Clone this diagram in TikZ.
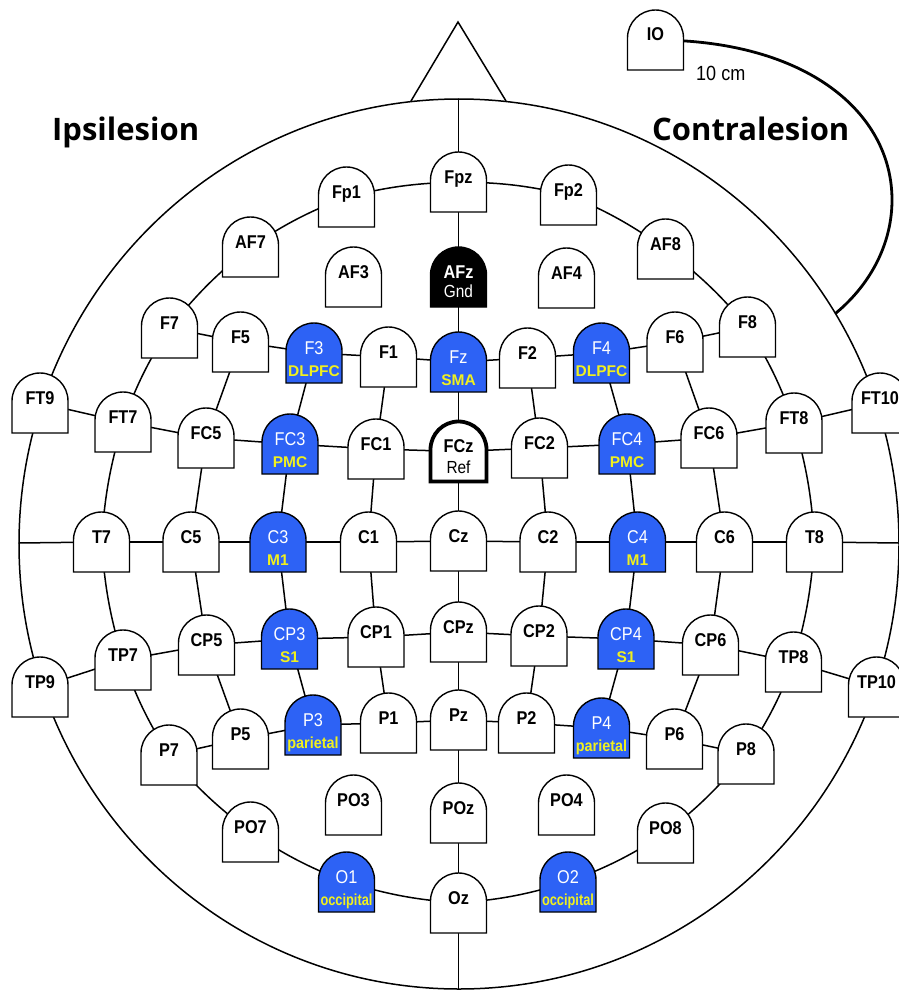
\documentclass[tikz,border=0pt]{standalone}
\usepackage{fontspec}
\setmainfont{Liberation Sans}
\newfontfamily\labf[FakeStretch=0.88]{Liberation Sans}
\newfontfamily\subf{Liberation Sans}
\newfontfamily\subp[FakeStretch=0.9]{Liberation Sans}
\newfontfamily\subo[FakeStretch=0.8]{Liberation Sans}
\newfontfamily\headf{Open Sans}
\usetikzlibrary{backgrounds}
\definecolor{eblue}{RGB}{45,98,245}
\definecolor{eyellow}{RGB}{240,240,30}
\newcommand\elfont{\labf\bfseries\fontsize{18.5}{21}\selectfont}
\newcommand\elfontr{\labf\mdseries\fontsize{18.5}{21}\selectfont}
\newcommand\subA{\subf\bfseries\fontsize{15.5}{18}\selectfont}
\newcommand\subP{\subp\bfseries\fontsize{16}{18}\selectfont}
\newcommand\subO{\subo\bfseries\fontsize{16}{18}\selectfont}
\newcommand\gndfont{\labf\mdseries\fontsize{17.5}{20}\selectfont}
\newcommand\etxt[3]{\vbox to 60pt{\offinterlineskip\kern31pt\hbox to 56pt{\hss\smash{#1}\hss}\kern#3\hbox to 56pt{\hss\smash{#2}\hss}\vss}}
\tikzset{
  tombfill/.store in=\tombfill, tombdraw/.store in=\tombdraw, tomblw/.store in=\tomblw,
  tombfill=white, tombdraw=black, tomblw=1.4pt,
  elec/.style={rectangle, inner sep=0pt, minimum width=60pt, minimum height=64pt, text=black, font=\elfont,
    path picture={\path[fill=\tombfill,draw=\tombdraw,line width=\tomblw,line join=miter]
      ([xshift=-28pt,yshift=-30pt]path picture bounding box.center) -- ++(0pt,32pt)
      arc[start angle=180,end angle=0,radius=28pt] -- ++(0pt,-32pt) -- cycle;}},
  act/.style={elec, tombfill=eblue, text=white, font=\elfontr},
  gnd/.style={elec, tombfill=black, text=white},
  refe/.style={elec, tomblw=3.8pt},
  conn/.style={line width=1.5pt, line cap=round},
  head/.style={font=\headf\bfseries\fontsize{31}{36}\selectfont, anchor=base west, inner sep=0pt},
}
\begin{document}
\begin{tikzpicture}[x=1pt,y=-1pt]
\useasboundingbox (0,0) rectangle (898,990);
% plain electrodes
\foreach \nm/\cx/\ty in {Fpz/458.5/152, Fp1/346.5/167, Fp2/568.5/165, AF7/250.5/217, AF3/353.5/247,
  AF4/566.5/248, AF8/665.5/219, F7/169.5/298, F5/240.5/312, F1/388.5/327, F2/527.5/328, F6/675/312,
  F8/747.5/297, FT9/40/373, FT7/123/392, FC5/206/408, FC1/376/419, FC2/539.5/418, FC6/709/408,
  FT8/794/393, FT10/880/373, T7/101.5/512, C5/191/512, C1/368.5/512, Cz/458.5/511, C2/548/512,
  C6/724.5/512, T8/814.5/512, TP9/40/657, TP7/123/630, CP5/206.5/615, CP1/376/607, CPz/458.5/602,
  CP2/539/606, CP6/710.5/615, TP8/793.5/632, TP10/876.5/657, P7/169/725, P5/240.5/709, P1/388.5/693,
  Pz/458.5/690, P2/526.5/693, P6/674.5/709, P8/746/724, PO7/250.5/802, PO3/353.5/775, POz/458.5/783,
  PO4/566.5/775, PO8/665.5/803, Oz/458.5/873, IO/655.5/10}
  \node[elec] (\nm) at (\cx,\ty+30) {\etxt{\nm}{}{22.5pt}};
% stimulated electrodes
\foreach \nm/\cx/\ty/\sb/\sf in {F3/314/323/DLPFC/\subA, Fz/458.5/332/SMA/\subA, F4/601.5/323/DLPFC/\subA,
  FC3/290/414/PMC/\subA, FC4/627/414/PMC/\subA, C3/278/512/M1/\subA, C4/637.5/512/M1/\subA,
  CP3/289.5/609/S1/\subA, CP4/626/609/S1/\subA, P3/313/695/parietal/\subP, P4/601.5/698/parietal/\subP,
  O1/346.5/852/occipital/\subO, O2/568/852/occipital/\subO}
  \node[act] (\nm) at (\cx,\ty+30) {\etxt{\nm}{\color{eyellow}\sf\sb}{22pt}};
\node[gnd] (AFz) at (458.5,277) {\etxt{AFz}{\gndfont Gnd}{19.5pt}};
\node[refe] (FCz) at (458.5,451.5) {\etxt{FCz}{\gndfont Ref}{20.5pt}};
% texts
\node[head] (ipsi) at (52,140) {Ipsilesion};
\node[head] (contra) at (652,140) {Contralesion};
\node[font=\labf\mdseries\fontsize{20.5}{24}\selectfont, anchor=base west, inner sep=0pt] (dist) at (696,81) {10 cm};
% free ends
\coordinate (ioend) at (836,313);
\coordinate (topm) at (458.5,99);
\coordinate (botm) at (458.5,989);
\coordinate (lc) at (19,543);
\coordinate (rc) at (899,543);
\begin{pgfonlayer}{background}
\draw[conn] (459,544) ellipse [x radius=440pt, y radius=445pt];
\draw[conn, line join=miter] (411,101) -- (458,22) -- (506,101);
\draw[conn, line width=2.8pt] (IO.center) .. controls (806,40) and (892,112) .. (892,200)
   .. controls (892,242) and (872,283) .. (ioend);
% inner ring
\foreach \a/\b in {Fpz/Fp1, Fp1/AF7, AF7/F7, F7/FT7, FT7/T7, T7/TP7, TP7/P7, P7/PO7, PO7/O1, O1/Oz,
  Oz/O2, O2/PO8, PO8/P8, P8/TP8, TP8/T8, T8/FT8, FT8/F8, F8/AF8, AF8/Fp2, Fp2/Fpz}
  \draw[conn] (\a.center) to[bend right=6] (\b.center);
% rows, columns, midline
\foreach \a/\b in {F7/F5, F5/F3, F3/F1, F1/Fz, Fz/F2, F2/F4, F4/F6, F6/F8,
  FT9/FT7, FT7/FC5, FC5/FC3, FC3/FC1, FC1/FCz, FCz/FC2, FC2/FC4, FC4/FC6, FC6/FT8, FT8/FT10,
  lc/T7, T7/C5, C5/C3, C3/C1, C1/Cz, Cz/C2, C2/C4, C4/C6, C6/T8, T8/rc,
  TP9/TP7, TP7/CP5, CP5/CP3, CP3/CP1, CP1/CPz, CPz/CP2, CP2/CP4, CP4/CP6, CP6/TP8, TP8/TP10,
  P7/P5, P5/P3, P3/P1, P1/Pz, Pz/P2, P2/P4, P4/P6, P6/P8,
  F5/FC5, FC5/C5, C5/CP5, CP5/P5, F3/FC3, FC3/C3, C3/CP3, CP3/P3, F1/FC1, FC1/C1, C1/CP1, CP1/P1,
  F2/FC2, FC2/C2, C2/CP2, CP2/P2, F4/FC4, FC4/C4, C4/CP4, CP4/P4, F6/FC6, FC6/C6, C6/CP6, CP6/P6,
  topm/Fpz, Fpz/AFz, AFz/Fz, Fz/FCz, FCz/Cz, Cz/CPz, CPz/Pz, Pz/POz, POz/Oz, Oz/botm}
  \draw[conn] (\a.center) -- (\b.center);
\end{pgfonlayer}
\end{tikzpicture}
\end{document}
